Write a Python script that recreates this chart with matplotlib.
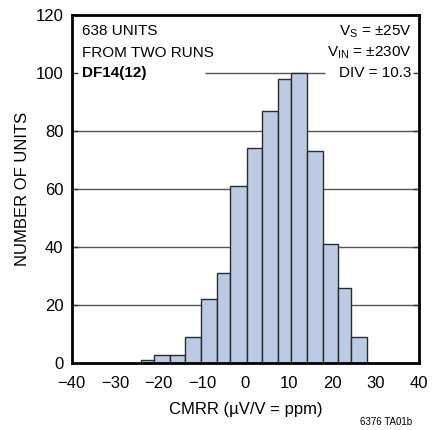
import numpy as np
import matplotlib
matplotlib.use('Agg')
import matplotlib.pyplot as plt

# fonts: narrow helvetica look (falls back to Liberation Sans)
plt.rcParams['font.family'] = ['Liberation Sans Narrow', 'Liberation Sans', 'DejaVu Sans']
plt.rcParams['mathtext.fontset'] = 'custom'
plt.rcParams['mathtext.rm'] = 'Liberation Sans'
plt.rcParams['mathtext.it'] = 'Liberation Sans:italic'

# histogram data
bin_edges = [-24.0, -21.1, -17.3, -13.9, -10.3, -6.6, -3.5, 0.3, 3.9, 7.4, 10.6, 14.1, 17.9, 21.4, 24.4, 28.1]
counts = [1, 3, 3, 9, 22, 31, 61, 74, 87, 98, 100, 73, 41, 26, 9]
x_ticks = [-40, -30, -20, -10, 0, 10, 20, 30, 40]
y_ticks = [0, 20, 40, 60, 80, 100, 120]
grid_full = [20, 40, 60, 80]
grid_100_span = (-9.2, 18.3)

bar_color = '#bccbe3'
edge_color = '#2b2b2b'
grid_color = '#555555'

fig = plt.figure(figsize=(4.45, 4.3), dpi=100)
ax = fig.add_axes([0.161, 0.155, 0.781, 0.811])

# gridlines behind the bars
for g in grid_full:
    ax.axhline(g, color=grid_color, lw=1.0, zorder=1)
ax.hlines(100, grid_100_span[0], grid_100_span[1], color=grid_color, lw=1.0, zorder=1)

edges = np.array(bin_edges)
ax.bar(edges[:-1], counts, width=np.diff(edges), align='edge',
       color=bar_color, edgecolor=edge_color, linewidth=1.0, zorder=2)

ax.set_xlim(-40, 40)
ax.set_ylim(0, 120)
ax.set_xticks(x_ticks)
ax.set_yticks(y_ticks)
ax.tick_params(axis='x', length=0, pad=9, labelsize=12)
ax.tick_params(axis='y', direction='in', length=4, width=1, pad=6, labelsize=12,
               right=True, color='#333333')
for s in ax.spines.values():
    s.set_linewidth(2)
    s.set_zorder(5)

ax.set_xlabel('CMRR (µV/V = ppm)', fontsize=12, labelpad=8)
ax.set_ylabel('NUMBER OF UNITS', fontsize=12, labelpad=4)

# annotations
fs = 11
ax.text(-37.7, 113.1, '638 UNITS', fontsize=fs, va='baseline', ha='left')
ax.text(-37.7, 105.5, 'FROM TWO RUNS', fontsize=fs, va='baseline', ha='left')
ax.text(-37.7, 98.6, 'DF14(12)', fontsize=fs, va='baseline', ha='left', fontweight='bold')
ax.text(38.3, 112.9, r'V$_{\mathrm{S}}$ = ±25V', fontsize=fs, va='baseline', ha='right')
ax.text(38.3, 105.5, r'V$_{\mathrm{IN}}$ = ±230V', fontsize=fs, va='baseline', ha='right')
ax.text(38.3, 98.6, 'DIV = 10.3', fontsize=fs, va='baseline', ha='right')

fig.text(0.927, 0.006, '6376 TA01b', fontsize=7, ha='right', va='bottom')

fig.savefig('out.png', dpi=100)
